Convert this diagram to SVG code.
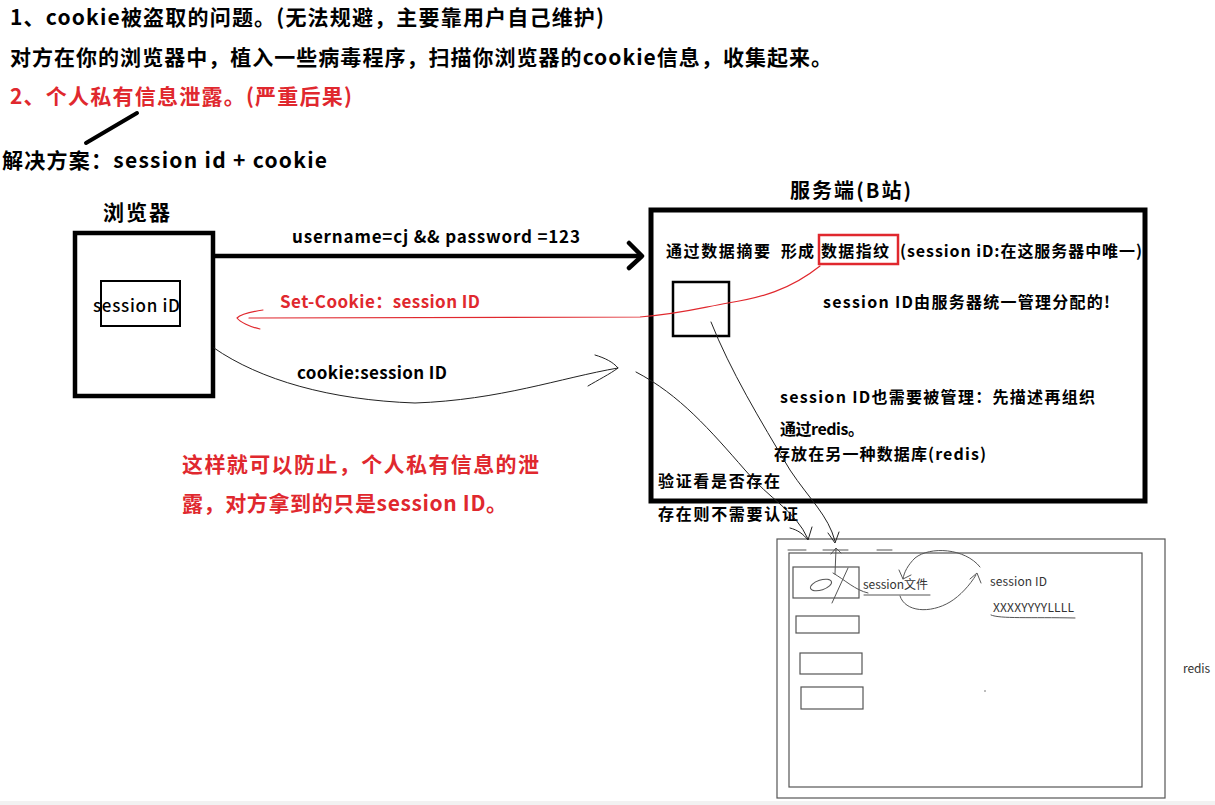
<svg xmlns="http://www.w3.org/2000/svg" width="1215" height="805" viewBox="0 0 1215 805">
<style>
.t{font-family:"Noto Sans CJK SC","Noto Sans",sans-serif;font-weight:bold;fill:#000}
.red{fill:#e0282e}
.sm{font-family:"Noto Sans CJK SC","Noto Sans",sans-serif;font-size:12px;fill:#333}
.box{fill:none;stroke:#000}
.gbox{fill:none;stroke:#555;stroke-width:1.2}
.thin{fill:none;stroke:#222;stroke-width:1;stroke-linecap:round;stroke-linejoin:round}
.rl{fill:none;stroke:#e0282e;stroke-width:1.2;stroke-linecap:round;stroke-linejoin:round}
.g{fill:none;stroke:#555;stroke-width:1;stroke-linecap:round}
</style>
<rect width="1215" height="805" fill="#fff"/>
<rect x="0" y="801" width="1215" height="4" fill="#f2f2f2"/>

<g id="notes">
<text class="t" x="10" y="25" font-size="21" textLength="594">1、cookie被盗取的问题。(无法规避，主要靠用户自己维护)</text>
<text class="t" x="10" y="65" font-size="21" textLength="822">对方在你的浏览器中，植入一些病毒程序，扫描你浏览器的cookie信息，收集起来。</text>
<text class="t red" x="10" y="104" font-size="21" textLength="342">2、个人私有信息泄露。(严重后果)</text>
<line x1="137" y1="113" x2="86" y2="143" stroke="#000" stroke-width="4" stroke-linecap="round"/>
<text class="t" x="2" y="168" font-size="21" textLength="325">解决方案：session id + cookie</text>
<text class="t red" x="182" y="472" font-size="21" textLength="357">这样就可以防止，个人私有信息的泄</text>
<text class="t red" x="182" y="511" font-size="21" textLength="325">露，对方拿到的只是session ID。</text>
</g>

<g id="browser">
<text class="t" x="103" y="220" font-size="21" textLength="67">浏览器</text>
<rect class="box" x="75" y="233" width="138" height="163" stroke-width="4.5"/>
<rect class="box" x="101" y="281" width="79" height="45" stroke-width="2"/>
<text class="t" x="93" y="312" font-size="17" style="font-weight:500" textLength="87">session iD</text>
</g>

<g id="server">
<text class="t" x="790" y="198" font-size="20" textLength="121">服务端(B站)</text>
<rect class="box" x="651" y="210" width="494" height="291" stroke-width="5"/>
<text class="t" x="666" y="257" font-size="16" textLength="104">通过数据摘要</text>
<text class="t" x="781" y="257" font-size="16" textLength="33">形成</text>
<text class="t" x="821" y="257" font-size="16" textLength="68">数据指纹</text>
<rect x="819" y="235" width="79" height="29" fill="none" stroke="#e0282e" stroke-width="2.5"/>
<text class="t" x="900" y="257" font-size="16" textLength="242">(session iD:在这服务器中唯一)</text>
<rect class="box" x="673" y="282" width="56" height="54" stroke-width="2.5"/>
<text class="t" x="823" y="308" font-size="16" textLength="287">session ID由服务器统一管理分配的!</text>
<text class="t" x="780" y="403" font-size="16" textLength="315">session ID也需要被管理：先描述再组织</text>
<text class="t" x="780" y="435" font-size="16" textLength="84">通过redis。</text>
<text class="t" x="774" y="460" font-size="16" textLength="212">存放在另一种数据库(redis)</text>
<text class="t" x="658" y="487" font-size="16" textLength="122">验证看是否存在</text>
<text class="t" x="658" y="520" font-size="16" textLength="140">存在则不需要认证</text>
</g>

<g id="redis">
<rect class="gbox" x="777" y="539" width="388" height="259"/>
<rect class="gbox" x="789" y="553" width="353" height="234"/>
<path class="g" d="M788,550H806M823,550H848M877,550H892"/>
<rect class="gbox" x="793" y="567" width="66" height="31"/>
<rect class="gbox" x="796" y="616" width="63" height="17"/>
<rect class="gbox" x="800" y="653" width="62" height="21"/>
<rect class="gbox" x="801" y="687" width="62" height="22"/>
<text class="sm" x="863" y="589" textLength="65">session文件</text>
<text class="sm" x="990" y="586" textLength="57">session ID</text>
<text class="sm" x="993" y="612" textLength="81">XXXXYYYYLLLL</text>
<text class="sm" x="1183" y="673" textLength="27">redis</text>
<path class="g" d="M864,595H930"/>
<path class="g" d="M991,615C1000,619 1030,617 1075,618"/>
<ellipse cx="821" cy="585" rx="11" ry="5" transform="rotate(-18 821 585)" class="g"/>
<path class="g" d="M832,603L848,568M833,573C845,580 855,590 868,593"/>
<path class="g" d="M835,574L836,549M831,554L836,548L841,553"/>
<path class="g" d="M980,567C965,548 930,546 915,558C908,565 904,572 903,579M899,570L903,579L911,575"/>
<path class="g" d="M900,596C905,612 930,614 950,602C960,596 970,585 976,575M970,579L977,573L981,583"/>
<circle cx="985" cy="691" r="0.8" fill="#666"/>
</g>

<g id="connectors">
<path d="M214,256H640" stroke="#000" stroke-width="4.5" fill="none"/>
<polyline points="629,243 642,256 629,268" fill="none" stroke="#000" stroke-width="4.5" stroke-linecap="round" stroke-linejoin="round"/>
<text class="t" x="292" y="243" font-size="17" textLength="288">username=cj &amp;&amp; password =123</text>
<path class="rl" d="M249,318L640,317C680,314 700,308 728,303C760,298 790,290 820,266"/>
<path class="rl" d="M263,310C250,312 240,315 237,318C240,322 250,327 260,329"/>
<text class="t red" x="280" y="308" font-size="17" textLength="200">Set-Cookie：session ID</text>
<path class="thin" d="M214,348C260,380 330,400 415,403C500,400 560,378 618,368"/>
<path class="thin" d="M595,355C605,358 613,362 618,368C610,374 598,380 588,386"/>
<text class="t" x="297" y="379" font-size="17" textLength="150">cookie:session ID</text>
<path class="thin" d="M711,322C730,370 760,420 790,470C810,500 828,515 835,541M828,533L835,543L839,532"/>
<path class="thin" d="M636,372C680,395 710,430 745,470C770,500 795,510 808,539M790,528C798,530 803,534 808,540L812,527"/>
</g>
</svg>
